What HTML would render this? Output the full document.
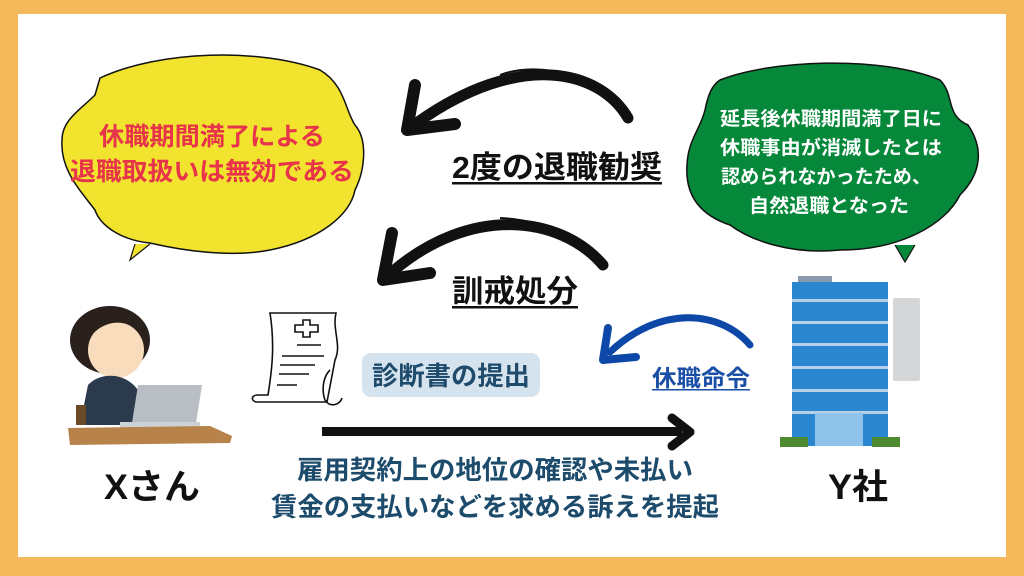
<!DOCTYPE html>
<html><head><meta charset="utf-8"><style>
html,body{margin:0;padding:0;width:1024px;height:576px;overflow:hidden;background:#F5B95C;}
svg{display:block}
text{font-family:"Liberation Sans","Noto Sans CJK JP",sans-serif;font-weight:bold}
</style></head><body>
<svg width="1024" height="576" viewBox="0 0 1024 576" xmlns="http://www.w3.org/2000/svg">
<rect x="18" y="14" width="988" height="543" fill="#fff"/>
<!-- yellow bubble -->
<path d="M100,78 C160,50 260,48 320,70 C345,85 345,110 355,125 C368,140 365,170 355,190 C350,215 320,240 270,250 C230,258 180,250 150,243 C120,240 100,225 95,210 C80,190 60,170 62,140 C62,120 80,110 95,95 Z" fill="#F2E32E" stroke="#111" stroke-width="1.5"/>
<path d="M135,244 L130,260 L150,244" fill="#F2E32E" stroke="#111" stroke-width="1.2"/>
<text x="212" y="145" font-size="25" fill="#E8344A" text-anchor="middle" textLength="226" lengthAdjust="spacingAndGlyphs">休職期間満了による</text>
<text x="212" y="180" font-size="25" fill="#E8344A" text-anchor="middle" textLength="284" lengthAdjust="spacingAndGlyphs">退職取扱いは無効である</text>
<!-- green bubble -->
<path d="M720,80 C770,60 880,55 940,80 C955,95 945,115 968,125 C985,150 980,175 960,195 C945,225 900,250 840,250 C790,255 750,240 730,225 C700,215 685,195 687,165 C688,140 700,130 705,110 C708,95 712,85 720,80 Z" fill="#06883A" stroke="#111" stroke-width="1.5"/>
<path d="M895,245 L905,262 L915,245" fill="#06883A" stroke="#111" stroke-width="1.2"/>
<text x="831" y="125" font-size="19" fill="#fff" text-anchor="middle" textLength="222" lengthAdjust="spacingAndGlyphs">延長後休職期間満了日に</text>
<text x="831" y="154" font-size="19" fill="#fff" text-anchor="middle" textLength="222" lengthAdjust="spacingAndGlyphs">休職事由が消滅したとは</text>
<text x="826" y="183" font-size="19" fill="#fff" text-anchor="middle" textLength="210" lengthAdjust="spacingAndGlyphs">認められなかったため、</text>
<text x="829" y="212" font-size="19" fill="#fff" text-anchor="middle" textLength="160" lengthAdjust="spacingAndGlyphs">自然退職となった</text>
<!-- black arrows -->
<path d="M628,118 C600,70 520,50 418,122" fill="none" stroke="#111" stroke-width="11" stroke-linecap="round"/>
<path d="M628,118 C600,75 540,60 500,75" fill="none" stroke="#111" stroke-width="2"/>
<path d="M415,85 L407,130 L455,124" fill="none" stroke="#111" stroke-width="12" stroke-linecap="round" stroke-linejoin="round"/>
<path d="M603,265 C560,215 470,205 392,272" fill="none" stroke="#111" stroke-width="11" stroke-linecap="round"/>
<path d="M603,265 C580,235 540,220 500,218" fill="none" stroke="#111" stroke-width="2"/>
<path d="M392,233 L383,280 L430,273" fill="none" stroke="#111" stroke-width="12" stroke-linecap="round" stroke-linejoin="round"/>
<text x="452" y="178" font-size="31" fill="#111" textLength="210" lengthAdjust="spacingAndGlyphs">2度の退職勧奨</text>
<rect x="452" y="182" width="210" height="2.5" fill="#111"/>
<text x="452" y="302" font-size="31" fill="#111" textLength="126" lengthAdjust="spacingAndGlyphs">訓戒処分</text>
<rect x="452" y="306" width="126" height="2.5" fill="#111"/>
<!-- blue arrow -->
<path d="M750,345 C720,310 660,305 610,352" fill="none" stroke="#0D47A8" stroke-width="7" stroke-linecap="round"/>
<path d="M608,328 L603,360 L636,357" fill="none" stroke="#0D47A8" stroke-width="8" stroke-linecap="round" stroke-linejoin="round"/>
<text x="652" y="386" font-size="23" fill="#1A4FA8" textLength="98" lengthAdjust="spacingAndGlyphs">休職命令</text>
<rect x="652" y="389" width="98" height="1.5" fill="#1A4FA8"/>
<!-- 診断書 -->
<rect x="362" y="353" width="178" height="44" rx="9" fill="#D5E3EE"/>
<text x="451" y="385" font-size="26" fill="#1E4A6B" text-anchor="middle" textLength="158" lengthAdjust="spacingAndGlyphs">診断書の提出</text>
<g fill="none" stroke="#111" stroke-width="1.6">
<path d="M270,313 L336,313 C332,330 342,345 335,360 L327,402 L256,402 C250,400 252,395 258,395 L268,395 C272,370 275,345 270,313 Z"/>
<path d="M295,325 h8 v-5 h7 v5 h8 v7 h-8 v5 h-7 v-5 h-8 z"/>
<path d="M297,345 h24 M282,356 h42 M280,365 h35 M279,374 h30 M277,385 h20"/>
<path d="M330,370 C322,378 322,392 325,400 C330,408 340,405 342,398"/>
</g>
<!-- horizontal arrow -->
<rect x="322" y="427" width="360" height="9" fill="#111"/>
<path d="M672,418 L690,432 L672,446" fill="none" stroke="#111" stroke-width="9" stroke-linecap="round" stroke-linejoin="round"/>
<text x="495" y="479" font-size="26" fill="#1C4B6C" text-anchor="middle" textLength="396" lengthAdjust="spacingAndGlyphs">雇用契約上の地位の確認や未払い</text>
<text x="495" y="516" font-size="26" fill="#1C4B6C" text-anchor="middle" textLength="448" lengthAdjust="spacingAndGlyphs">賃金の支払いなどを求める訴えを提起</text>
<!-- person -->
<ellipse cx="110" cy="340" rx="40" ry="34" fill="#2A201C"/>
<ellipse cx="116" cy="350" rx="28" ry="28" fill="#F8DCBC"/>
<path d="M82,330 C95,305 135,305 145,330 L135,328 C120,318 100,322 88,340 Z" fill="#2A201C"/>
<path d="M80,425 L88,385 C100,372 125,372 138,390 L150,425 Z" fill="#2B3A4C"/>
<path d="M76,405 h10 v20 h-10 z" fill="#6B4A2A"/>
<path d="M138,385 h64 l-6 38 h-64 z" fill="#B8BEC4"/>
<path d="M120,422 h80 v6 h-80 z" fill="#CDD2D6"/>
<path d="M68,428 L210,426 L232,436 L230,443 L70,445 Z" fill="#B8834A"/>
<text x="152" y="499" font-size="35" fill="#111" text-anchor="middle" textLength="96" lengthAdjust="spacingAndGlyphs">Xさん</text>
<!-- building -->
<rect x="798" y="276" width="34" height="6" fill="#8A9AAC"/>
<rect x="792" y="282" width="96" height="164" fill="#2B86D0"/>
<g fill="#B7D0E8">
<rect x="792" y="299" width="96" height="3"/><rect x="792" y="321" width="96" height="3"/><rect x="792" y="343" width="96" height="3"/><rect x="792" y="366" width="96" height="3"/><rect x="792" y="389" width="96" height="3"/><rect x="792" y="411" width="96" height="3"/>
</g>
<rect x="893" y="298" width="27" height="83" rx="2" fill="#D4D6D8"/>
<rect x="815" y="413" width="48" height="33" fill="#8FC3EA"/>
<rect x="780" y="437" width="28" height="10" fill="#4E8A30"/>
<rect x="872" y="437" width="28" height="10" fill="#4E8A30"/>
<text x="858" y="499" font-size="35" fill="#111" text-anchor="middle" textLength="60" lengthAdjust="spacingAndGlyphs">Y社</text>
</svg>
</body></html>
